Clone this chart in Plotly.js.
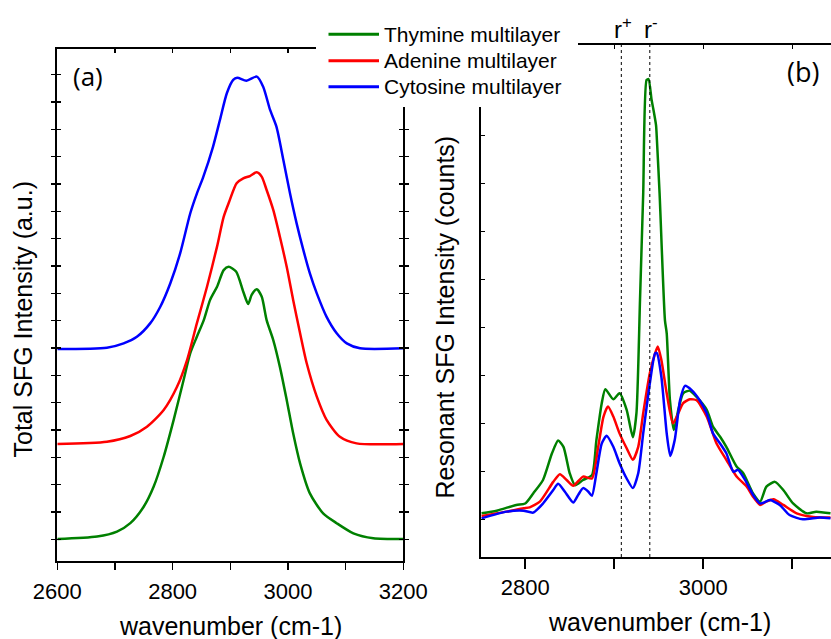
<!DOCTYPE html>
<html>
<head>
<meta charset="utf-8">
<script src="https://cdn.plot.ly/plotly-3.0.1.min.js"></script>
<style>
  html, body { margin: 0; padding: 0; background: #fff; }
  #chart { width: 831px; height: 639px; }
</style>
</head>
<body>
<div id="chart"></div>
<script>
// ---- Series names and colours ----
const seriesNames = ['Thymine multilayer', 'Adenine multilayer', 'Cytosine multilayer'];
const seriesColors = ['#008000', '#ff0000', '#0000ff'];

// ---- (a) Total SFG intensity, offset curves (a.u.) ----
const totalThymineX = [2600, 2669, 2703.5, 2726.6, 2749.8, 2767, 2784.5, 2801.8, 2819, 2830.6, 2842, 2854, 2865, 2877, 2888.5, 2897, 2910, 2922.5, 2931, 2937, 2945.8, 2954.4, 2963, 2974.5, 2986, 2997.8, 3009, 3021, 3038, 3061, 3084.5, 3113.5, 3148, 3200];
const totalThymineY = [1.01, 1.10, 1.28, 1.59, 2.19, 2.92, 4.02, 5.37, 6.83, 7.81, 8.41, 9.02, 9.76, 10.24, 10.85, 10.97, 10.8, 10.06, 9.61, 9.94, 10.15, 9.88, 9.02, 8.29, 7.31, 6.10, 4.88, 3.78, 2.68, 1.95, 1.59, 1.22, 1.04, 1.01];

const totalAdenineX = [2600, 2686, 2726.6, 2755.5, 2784.5, 2807.6, 2825, 2842, 2859.6, 2877, 2888.5, 2898, 2911, 2922.5, 2934, 2945.8, 2954.4, 2963, 2974.5, 2986, 2997.8, 3009, 3021, 3032.5, 3050, 3067, 3090, 3119, 3200];
const totalAdenineY = [4.49, 4.57, 4.78, 5.12, 5.73, 6.58, 7.56, 8.90, 10.24, 11.71, 12.80, 13.35, 14.03, 14.21, 14.29, 14.43, 14.27, 13.78, 13.05, 12.07, 10.97, 9.76, 8.54, 7.44, 6.22, 5.37, 4.75, 4.51, 4.49];

const totalCytosineX = [2600, 2686, 2715, 2738, 2761, 2778.6, 2796, 2813, 2830.6, 2842, 2853, 2870, 2882, 2894, 2905, 2912, 2928, 2946, 2957, 2969, 2980, 2992, 3003.5, 3015, 3026.6, 3038, 3050, 3067, 3084.5, 3102, 3125, 3200];
const totalCytosineY = [7.96, 8.01, 8.17, 8.41, 8.90, 9.51, 10.37, 11.46, 12.93, 13.65, 14.25, 15.36, 16.34, 17.32, 17.81, 17.89, 17.78, 17.93, 17.56, 16.71, 16.10, 14.88, 13.66, 12.56, 11.59, 10.73, 10.0, 9.14, 8.54, 8.17, 7.99, 7.99];

// ---- (b) Resonant SFG intensity (counts) ----
const resThymineX = [2751, 2768, 2790, 2800, 2809, 2820, 2830, 2837, 2843, 2850, 2856, 2865, 2875, 2880, 2886, 2890, 2899, 2906, 2914, 2921, 2925, 2929, 2932.6, 2936.4, 2938.6, 2942, 2944, 2947, 2948, 2951, 2957, 2959, 2962.6, 2967, 2972, 2977.5, 2985, 2992.6, 3004, 3011, 3019, 3026, 3037.5, 3045, 3056, 3064, 3071, 3080.6, 3090, 3101, 3116, 3127, 3143];
const resThymineY = [1.125, 1.18, 1.30, 1.33, 1.54, 1.82, 2.37, 2.64, 2.51, 1.96, 1.71, 1.82, 1.92, 2.65, 3.42, 3.71, 3.50, 3.625, 3.28, 2.71, 3.21, 5.57, 7.79, 10.15, 10.17, 9.74, 9.54, 9.21, 8.90, 7.79, 5.15, 4.875, 3.49, 2.86, 3.28, 3.625, 3.68, 3.55, 3.28, 2.93, 2.72, 2.51, 2.10, 1.96, 1.54, 1.37, 1.68, 1.78, 1.61, 1.33, 1.125, 1.16, 1.125];

const resAdenineX = [2751, 2779, 2798, 2805, 2816.5, 2831.5, 2839, 2846.5, 2854, 2865, 2875, 2882, 2888, 2893, 2899, 2906, 2914, 2921, 2927, 2932.6, 2940, 2946, 2949, 2953, 2959, 2966, 2972, 2977.5, 2985, 2992.6, 3004, 3015, 3026, 3037.5, 3049, 3056, 3064, 3071, 3079, 3090, 3105, 3123.6, 3143];
const resAdenineY = [1.07, 1.16, 1.23, 1.25, 1.37, 1.78, 1.94, 1.82, 1.70, 1.89, 1.85, 2.51, 3.14, 3.35, 3.14, 2.79, 2.48, 2.24, 2.51, 3.21, 4.04, 4.46, 4.60, 4.32, 3.625, 3.0, 3.21, 3.42, 3.50, 3.48, 3.14, 2.58, 2.24, 1.89, 1.68, 1.47, 1.30, 1.37, 1.42, 1.30, 1.125, 1.05, 1.04];

const resCytosineX = [2751, 2779, 2798, 2809, 2820, 2831.5, 2837, 2844.6, 2854, 2859.6, 2865, 2871, 2875, 2880, 2886, 2891.5, 2899, 2906, 2914, 2921, 2927, 2932.6, 2940, 2946, 2948, 2953, 2959, 2963, 2968, 2974, 2979.5, 2987, 2996, 3004, 3011, 3019, 3026, 3034, 3039, 3047, 3056, 3064, 3075, 3086, 3097, 3112, 3131, 3143];
const resCytosineY = [1.02, 1.16, 1.18, 1.14, 1.33, 1.61, 1.74, 1.575, 1.35, 1.51, 1.65, 1.575, 1.49, 1.96, 2.58, 2.74, 2.51, 2.17, 1.85, 1.65, 1.96, 2.79, 3.83, 4.46, 4.46, 3.97, 2.79, 2.32, 2.65, 3.48, 3.78, 3.69, 3.48, 3.21, 2.79, 2.58, 2.375, 1.99, 2.03, 1.82, 1.51, 1.33, 1.40, 1.30, 1.09, 1.0, 1.04, 1.02];

// ---- Mode positions (r+ / r-) ----
const modeLabels = ['r<sup>+</sup>', 'r<sup>-</sup>'];
const modePositions = [2908, 2940];

// ---- Axis ranges and tick steps ----
const leftRange = [2600, 3200];
const rightRange = [2750, 3143.6];
const majorStep = 200, minorStep = 100;

// ---- Page geometry helpers (pixel -> paper fraction) ----
const W = 831, H = 639;
const px = v => v / W;
const py = v => 1 - v / H;

const FONT = '"Liberation Sans", Arial, sans-serif';

const totals = [[totalThymineX, totalThymineY], [totalAdenineX, totalAdenineY], [totalCytosineX, totalCytosineY]];
const resonant = [[resThymineX, resThymineY], [resAdenineX, resAdenineY], [resCytosineX, resCytosineY]];

const traces = [];
totals.forEach((s, i) => traces.push({
  x: s[0], y: s[1], xaxis: 'x', yaxis: 'y', type: 'scatter', mode: 'lines',
  name: seriesNames[i], showlegend: false,
  line: { color: seriesColors[i], width: 2.5, shape: 'spline', smoothing: 0.7 }
}));
resonant.forEach((s, i) => traces.push({
  x: s[0], y: s[1], xaxis: 'x2', yaxis: 'y2', type: 'scatter', mode: 'lines',
  name: seriesNames[i], showlegend: false,
  line: { color: seriesColors[i], width: 2.5, shape: 'spline', smoothing: 0.6 }
}));
// empty traces that register the top-edge tick axes
traces.push({ x: [], y: [], xaxis: 'x3', yaxis: 'y', type: 'scatter', mode: 'lines', showlegend: false, hoverinfo: 'skip' });
traces.push({ x: [], y: [], xaxis: 'x4', yaxis: 'y2', type: 'scatter', mode: 'lines', showlegend: false, hoverinfo: 'skip' });

const axisCommon = {
  showgrid: false, zeroline: false, showline: true, linecolor: '#000', linewidth: 2,
  tickcolor: '#000', tickwidth: 1.5,
  tickfont: { family: FONT, size: 22, color: '#000' }
};

// thin top-edge axes carrying small inward ticks
const topAxis = (overlay, range) => ({
  overlaying: overlay, side: 'top', range: range, showgrid: false, zeroline: false,
  showline: false, showticklabels: false, ticks: 'inside', ticklen: 4, tickwidth: 1.2,
  tickcolor: '#000', dtick: minorStep, tick0: 2600
});

const layout = {
  width: W, height: H,
  margin: { l: 0, r: 0, t: 0, b: 0 },
  paper_bgcolor: '#fff', plot_bgcolor: 'rgba(0,0,0,0)',
  showlegend: false,
  xaxis: Object.assign({}, axisCommon, {
    domain: [px(57.3), px(403.3)], anchor: 'y',
    range: leftRange, dtick: majorStep, tick0: 2600,
    ticks: 'outside', ticklen: 7, mirror: true, ticklabelstandoff: 3,
    minor: { dtick: minorStep, tick0: 2600, ticks: 'outside', ticklen: 7, tickwidth: 1.5, tickcolor: '#000', showgrid: false }
  }),
  yaxis: Object.assign({}, axisCommon, {
    domain: [py(560.7), py(49)], anchor: 'x',
    range: [0.217, 18.94], dtick: 1, tick0: 0, showticklabels: false,
    ticks: 'inside', ticklen: 4, mirror: 'allticks'
  }),
  xaxis2: Object.assign({}, axisCommon, {
    domain: [px(480.7), 1], anchor: 'y2',
    range: rightRange, dtick: majorStep, tick0: 2800,
    ticks: 'outside', ticklen: 10, mirror: true, ticklabelstandoff: 0,
    minor: { dtick: minorStep, tick0: 2800, ticks: 'outside', ticklen: 10, tickwidth: 1.5, tickcolor: '#000', showgrid: false }
  }),
  yaxis2: Object.assign({}, axisCommon, {
    domain: [py(557), py(45)], anchor: 'x2',
    range: [0.215, 10.88], dtick: 1, tick0: 0, showticklabels: false,
    ticks: 'inside', ticklen: 4, mirror: false
  }),
  xaxis3: Object.assign(topAxis('x', leftRange), { anchor: 'y' }),
  xaxis4: Object.assign(topAxis('x2', rightRange), { anchor: 'y2' }),
  shapes: [],
  annotations: []
};

// dashed guide lines at the r+ and r- mode positions
modePositions.forEach(pos => {
  layout.shapes.push({
    type: 'line', xref: 'x2', yref: 'paper', x0: pos, x1: pos, y0: py(557), y1: py(45),
    line: { color: '#000', width: 1, dash: '3px,3px' }
  });
});

// white panel behind the legend (hides axis lines underneath)
layout.shapes.push({
  type: 'rect', xref: 'paper', yref: 'paper', layer: 'above',
  x0: px(316), x1: px(578), y0: py(107), y1: 1,
  fillcolor: '#fff', line: { width: 0 }
});

// legend: line samples + labels
const legendRows = [34.3, 60.7, 86.7];
seriesNames.forEach((name, i) => {
  layout.shapes.push({
    type: 'line', xref: 'paper', yref: 'paper', layer: 'above',
    x0: px(328.5), x1: px(379), y0: py(legendRows[i]), y1: py(legendRows[i]),
    line: { color: seriesColors[i], width: 3 }
  });
  layout.annotations.push({
    xref: 'paper', yref: 'paper', x: px(382), y: py(legendRows[i]),
    xanchor: 'left', yanchor: 'middle', showarrow: false,
    text: name, font: { family: FONT, size: 21, color: '#000' }
  });
});

// mode labels above the top axis of panel (b)
modeLabels.forEach((t, i) => {
  layout.annotations.push({
    xref: 'x2', yref: 'paper', x: modePositions[i] + 1.5, y: py(28),
    xanchor: 'center', yanchor: 'middle', showarrow: false,
    text: t, font: { family: FONT, size: 24, color: '#000' }
  });
});

// panel letters
layout.annotations.push({
  xref: 'paper', yref: 'paper', x: px(88), y: py(76), xanchor: 'center', yanchor: 'middle',
  showarrow: false, text: '(a)', font: { family: '"Open Sans", sans-serif', size: 26, color: '#000' }
});
layout.annotations.push({
  xref: 'paper', yref: 'paper', x: px(803), y: py(71), xanchor: 'center', yanchor: 'middle',
  showarrow: false, text: '(b)', font: { family: '"Open Sans", sans-serif', size: 27, color: '#000' }
});

// axis titles
const titleFont = { family: FONT, size: 25, color: '#000' };
layout.annotations.push({
  xref: 'paper', yref: 'paper', x: px(22.5), y: py(319), textangle: -90,
  xanchor: 'center', yanchor: 'middle', showarrow: false,
  text: 'Total SFG Intensity (a.u.)', font: titleFont
});
layout.annotations.push({
  xref: 'paper', yref: 'paper', x: px(445), y: py(317.5), textangle: -90,
  xanchor: 'center', yanchor: 'middle', showarrow: false,
  text: 'Resonant SFG Intensity (counts)', font: titleFont
});
layout.annotations.push({
  xref: 'paper', yref: 'paper', x: px(230.5), y: py(626), xanchor: 'center', yanchor: 'middle',
  showarrow: false, text: 'wavenumber (cm-1)', font: titleFont
});
layout.annotations.push({
  xref: 'paper', yref: 'paper', x: px(659), y: py(621.5), xanchor: 'center', yanchor: 'middle',
  showarrow: false, text: 'wavenumber (cm-1)', font: titleFont
});

Plotly.newPlot('chart', traces, layout, { staticPlot: true, displayModeBar: false });
</script>
</body>
</html>
